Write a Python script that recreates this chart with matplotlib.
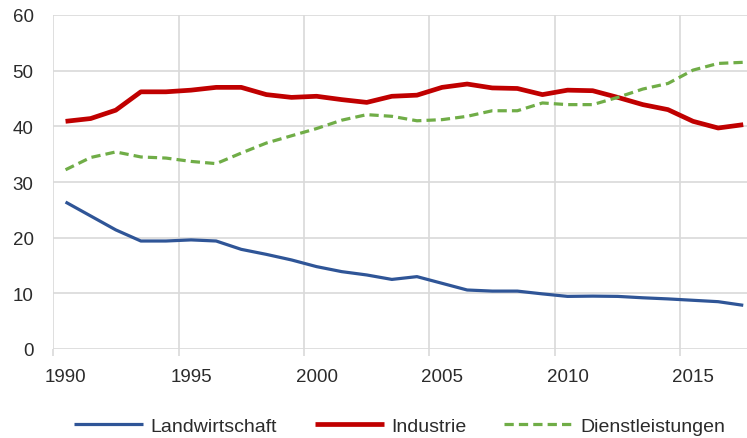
import matplotlib
matplotlib.use("Agg")
import matplotlib.pyplot as plt
import numpy as np

plt.rcParams['font.family'] = ['Liberation Sans Narrow', 'Liberation Sans', 'DejaVu Sans']

years = list(range(1990, 2018))
landwirtschaft = [26.4, 23.9, 21.4, 19.4, 19.4, 19.6, 19.4, 17.9, 17.0, 16.0,
                  14.8, 13.9, 13.3, 12.5, 13.0, 11.8, 10.6, 10.4, 10.4, 9.9,
                  9.45, 9.5, 9.45, 9.2, 9.0, 8.75, 8.5, 7.85]
industrie = [40.9, 41.4, 42.9, 46.2, 46.2, 46.5, 47.0, 47.0, 45.7, 45.2,
             45.4, 44.8, 44.3, 45.4, 45.6, 47.0, 47.6, 46.9, 46.8, 45.7,
             46.5, 46.4, 45.2, 43.9, 43.0, 40.9, 39.7, 40.3]
dienstleistungen = [32.2, 34.4, 35.4, 34.5, 34.3, 33.7, 33.3, 35.2, 37.0, 38.3,
                    39.6, 41.1, 42.1, 41.8, 41.0, 41.2, 41.8, 42.8, 42.8, 44.2,
                    43.9, 43.9, 45.2, 46.7, 47.7, 50.1, 51.3, 51.5]

grid_c = '#d9d9d9'
text_c = '#2b2b2b'

fig = plt.figure(figsize=(7.47, 4.39), dpi=100)
ax = fig.add_axes([53/747, 89/439, 694/747, 334/439])

ax.plot(years, landwirtschaft, color='#2f5597', lw=2.3, label='Landwirtschaft',
        solid_joinstyle='round', solid_capstyle='butt')
ax.plot(years, industrie, color='#c00000', lw=3.4, label='Industrie',
        solid_joinstyle='round', solid_capstyle='butt')
ax.plot(years, dienstleistungen, color='#70ad47', lw=2.3, label='Dienstleistungen',
        dashes=(2.9, 1.6))

ax.set_xlim(1989.5, 1989.5 + 694/25.1)
ax.set_ylim(0, 60)

ax.set_xticks([1990, 1995, 2000, 2005, 2010, 2015])
ax.set_xticks([1989.5, 1994.5, 1999.5, 2004.5, 2009.5, 2014.5], minor=True)
ax.set_yticks(range(0, 61, 10))

ax.grid(axis='y', which='major', color=grid_c, lw=1.2)
ax.grid(axis='x', which='minor', color=grid_c, lw=1.2)
ax.set_axisbelow(True)

for s in ax.spines.values():
    s.set_visible(False)

ax.tick_params(axis='x', which='major', length=0, pad=14, labelsize=13.5, labelcolor=text_c)
ax.tick_params(axis='x', which='minor', length=5, width=1.2, color=grid_c)
ax.tick_params(axis='y', length=0, pad=14, labelsize=13.5, labelcolor=text_c)

leg = fig.legend(loc='center', bbox_to_anchor=(0.535, 12/439), ncol=3, frameon=False,
                 fontsize=14, handlelength=3.55, handletextpad=0.36, columnspacing=1.95)
for t in leg.get_texts():
    t.set_color(text_c)

fig.savefig('out.png', dpi=100)
